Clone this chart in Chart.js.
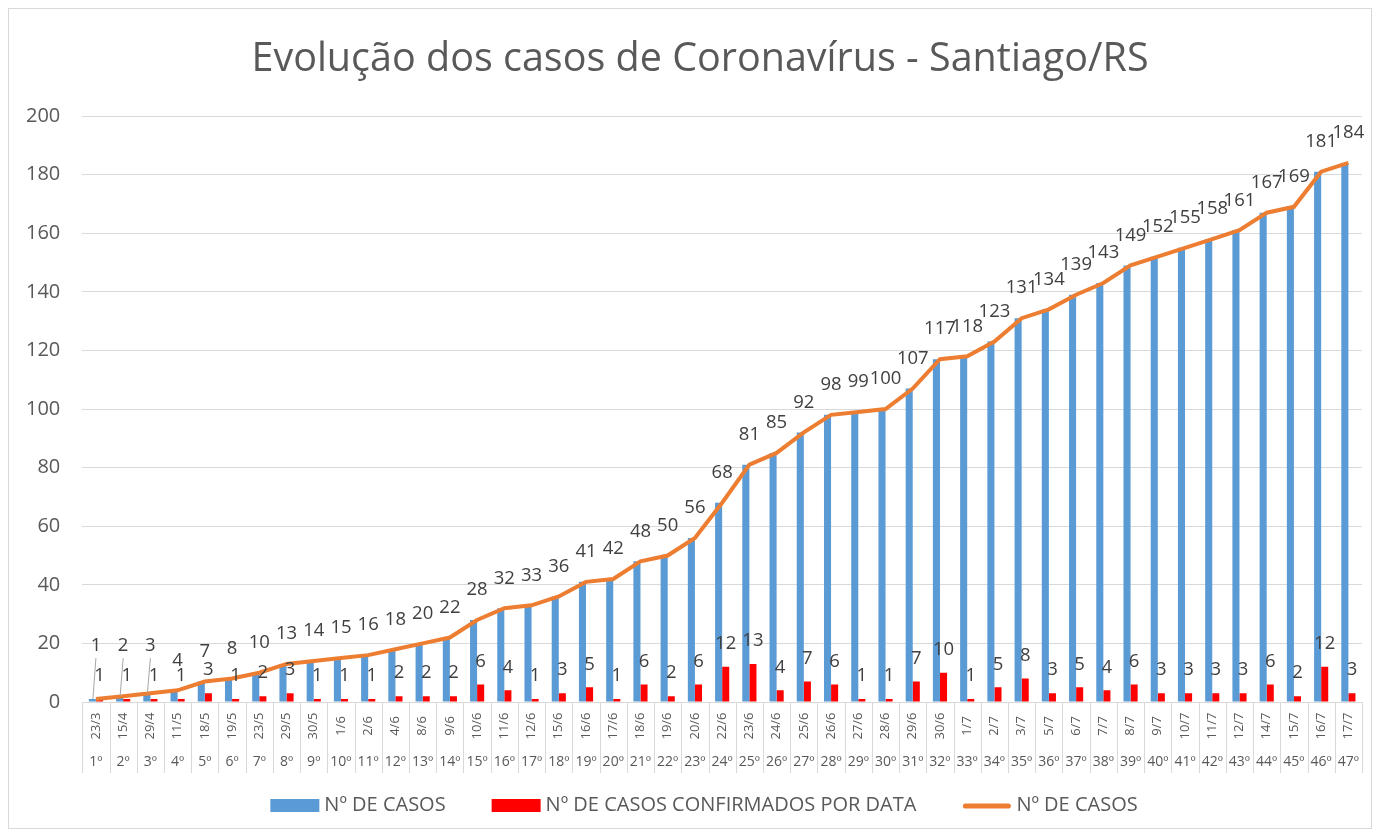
<!DOCTYPE html>
<html>
<head>
<meta charset="utf-8">
<script src="https://cdn.jsdelivr.net/npm/chart.js@4.4.0/dist/chart.umd.min.js"></script>
<style>
  html, body { margin: 0; padding: 0; background: #fff; }
  #wrap { width: 1380px; height: 837px; }
</style>
</head>
<body>
<div id="wrap"><canvas id="chart" width="1380" height="837"></canvas></div>
<script>
// Evolução dos casos - Santiago/RS

const dates = ['23/3', '15/4', '29/4', '11/5', '18/5', '19/5', '23/5', '29/5', '30/5', '1/6',
    '2/6', '4/6', '8/6', '9/6', '10/6', '11/6', '12/6', '15/6', '16/6', '17/6',
    '18/6', '19/6', '20/6', '22/6', '23/6', '24/6', '25/6', '26/6', '27/6', '28/6',
    '29/6', '30/6', '1/7', '2/7', '3/7', '5/7', '6/7', '7/7', '8/7', '9/7',
    '10/7', '11/7', '12/7', '14/7', '15/7', '16/7', '17/7'];

const ordinals = ['1º', '2º', '3º', '4º', '5º', '6º', '7º', '8º', '9º', '10º',
    '11º', '12º', '13º', '14º', '15º', '16º', '17º', '18º', '19º', '20º',
    '21º', '22º', '23º', '24º', '25º', '26º', '27º', '28º', '29º', '30º',
    '31º', '32º', '33º', '34º', '35º', '36º', '37º', '38º', '39º', '40º',
    '41º', '42º', '43º', '44º', '45º', '46º', '47º'];

const totalCases = [1, 2, 3, 4, 7, 8, 10, 13, 14, 15,
    16, 18, 20, 22, 28, 32, 33, 36, 41, 42,
    48, 50, 56, 68, 81, 85, 92, 98, 99, 100,
    107, 117, 118, 123, 131, 134, 139, 143, 149, 152,
    155, 158, 161, 167, 169, 181, 184];

const dailyCases = [1, 1, 1, 1, 3, 1, 2, 3, 1, 1,
    1, 2, 2, 2, 6, 4, 1, 3, 5, 1,
    6, 2, 6, 12, 13, 4, 7, 6, 1, 1,
    7, 10, 1, 5, 8, 3, 5, 4, 6, 3,
    3, 3, 3, 6, 2, 12, 3];

const yTicks = [0, 20, 40, 60, 80, 100, 120, 140, 160, 180, 200];

const FONT = '"Open Sans", "Liberation Sans", sans-serif';
const TEXT_COLOR = '#595959';
const LABEL_COLOR = '#404040';
const GRID_COLOR = '#d9d9d9';
const BLUE = '#5B9BD5';
const RED = '#FF0000';
const ORANGE = '#ED7D31';

const legendItems = [
    { text: 'Nº DE CASOS', color: BLUE, kind: 'box' },
    { text: 'Nº DE CASOS CONFIRMADOS POR DATA', color: RED, kind: 'box' },
    { text: 'Nº DE CASOS', color: ORANGE, kind: 'line' }
];

// draws title, two-row x labels, value labels and legend
const decorPlugin = {
    id: 'decor',
    afterDraw(chart) {
        const ctx = chart.ctx;
        const area = chart.chartArea;
        const x = chart.scales.x;
        const y = chart.scales.y;
        const half = (x.getPixelForValue(1) - x.getPixelForValue(0)) / 2;

        ctx.save();

        // frame
        ctx.strokeStyle = GRID_COLOR;
        ctx.lineWidth = 1;
        ctx.strokeRect(8.5, 8.5, chart.width - 17, chart.height - 17);

        // title
        ctx.fillStyle = TEXT_COLOR;
        ctx.font = '39.5px ' + FONT;
        ctx.textAlign = 'center';
        ctx.textBaseline = 'middle';
        ctx.fillText('Evolução dos casos de Coronavírus - Santiago/RS', 700, 60);

        // category dividers under the axis
        ctx.strokeStyle = GRID_COLOR;
        ctx.beginPath();
        for (let i = 0; i <= dates.length; i++) {
            const px = Math.round(x.getPixelForValue(i) - half) + 0.5;
            ctx.moveTo(px, area.bottom);
            ctx.lineTo(px, area.bottom + 71);
        }
        ctx.stroke();

        // dates (rotated) and ordinals
        ctx.fillStyle = TEXT_COLOR;
        dates.forEach((d, i) => {
            const px = x.getPixelForValue(i);
            ctx.save();
            ctx.translate(px, area.bottom + 24);
            ctx.rotate(-Math.PI / 2);
            ctx.font = '13px ' + FONT;
            ctx.textAlign = 'center';
            ctx.textBaseline = 'middle';
            ctx.fillText(d, 0, 0);
            ctx.restore();

            ctx.font = '14px ' + FONT;
            ctx.textAlign = 'center';
            ctx.textBaseline = 'middle';
            ctx.fillText(ordinals[i], px, area.bottom + 60);
        });

        // value labels
        const barMeta = chart.getDatasetMeta(2);
        ctx.font = '18.5px ' + FONT;
        ctx.textAlign = 'center';
        ctx.textBaseline = 'middle';
        totalCases.forEach((v, i) => {
            const bar = barMeta.data[i];
            const dailyY = bar.y - 23;
            ctx.fillStyle = LABEL_COLOR;
            ctx.fillText(String(dailyCases[i]), bar.x, dailyY);

            const px = x.getPixelForValue(i);
            const py = y.getPixelForValue(v);
            let ly = py - 30;
            // push the total label up when it would sit on the daily one
            if (Math.abs(ly - dailyY) < 15) {
                ly = dailyY - 30;
                ctx.strokeStyle = '#a6a6a6';
                ctx.lineWidth = 1;
                ctx.beginPath();
                ctx.moveTo(px, ly + 12);
                ctx.lineTo(px - 3, py);
                ctx.stroke();
            }
            ctx.fillText(String(v), px, ly);
        });

        // legend
        ctx.font = '20px ' + FONT;
        ctx.textBaseline = 'middle';
        ctx.textAlign = 'left';
        const boxW = 49, gapText = 5, gapItem = 46;
        let total = 0;
        legendItems.forEach((it, i) => {
            total += boxW + gapText + ctx.measureText(it.text).width;
            if (i > 0) total += gapItem;
        });
        let lx = 704 - total / 2;
        const ly = 805;
        legendItems.forEach(it => {
            if (it.kind === 'box') {
                ctx.fillStyle = it.color;
                ctx.fillRect(lx, ly - 6, boxW, 13);
            } else {
                ctx.strokeStyle = it.color;
                ctx.lineWidth = 5;
                ctx.lineCap = 'round';
                ctx.beginPath();
                ctx.moveTo(lx + 3, ly + 1);
                ctx.lineTo(lx + boxW - 3, ly + 1);
                ctx.stroke();
            }
            lx += boxW + gapText;
            ctx.fillStyle = TEXT_COLOR;
            ctx.fillText(it.text, lx, ly);
            lx += ctx.measureText(it.text).width + gapItem;
        });

        ctx.restore();
    }
};

const ctx = document.getElementById('chart').getContext('2d');
const chart = new Chart(ctx, {
    type: 'bar',
    data: {
        labels: dates,
        datasets: [
            {
                type: 'line',
                label: 'Nº DE CASOS',
                data: totalCases,
                borderColor: ORANGE,
                borderWidth: 4,
                pointRadius: 0,
                tension: 0,
                fill: false,
                order: 0
            },
            {
                label: 'Nº DE CASOS',
                data: totalCases,
                backgroundColor: BLUE,
                categoryPercentage: 0.52,
                barPercentage: 1.0,
                order: 1
            },
            {
                label: 'Nº DE CASOS CONFIRMADOS POR DATA',
                data: dailyCases,
                backgroundColor: RED,
                categoryPercentage: 0.52,
                barPercentage: 1.0,
                order: 2
            }
        ]
    },
    options: {
        responsive: false,
        animation: false,
        devicePixelRatio: 1,
        layout: {
            padding: { top: 116, left: 4, right: 18, bottom: 127 }
        },
        plugins: {
            legend: { display: false },
            title: { display: false },
            tooltip: { enabled: false }
        },
        scales: {
            x: {
                ticks: { display: false },
                grid: { display: false },
                border: { color: GRID_COLOR }
            },
            y: {
                min: 0,
                max: 200,
                afterBuildTicks: axis => {
                    axis.ticks = yTicks.map(v => ({ value: v }));
                },
                ticks: {
                    color: TEXT_COLOR,
                    font: { family: FONT, size: 20 },
                    padding: 22
                },
                grid: { color: GRID_COLOR, drawTicks: false },
                border: { display: false }
            }
        }
    },
    plugins: [decorPlugin]
});
</script>
</body>
</html>
